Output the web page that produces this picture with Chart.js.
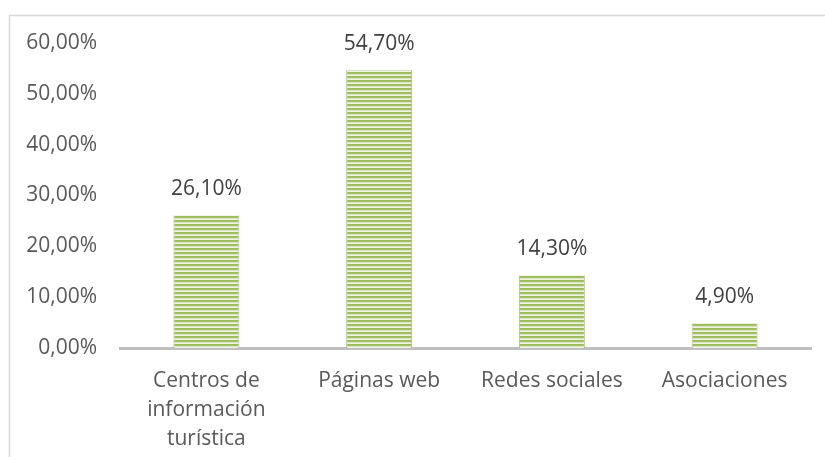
<!DOCTYPE html>
<html>
<head>
<meta charset="utf-8">
<script src="https://cdn.jsdelivr.net/npm/chart.js@4"></script>
<style>
  html, body { margin: 0; padding: 0; background: #fff; }
  #chart { display: block; }
</style>
</head>
<body>
<canvas id="chart" width="825" height="457"></canvas>
<script>
// datos del gráfico
const categories = [
  ['Centros de', 'información', 'turística'],
  'Páginas web',
  'Redes sociales',
  'Asociaciones',
];
const values = [26.1, 54.7, 14.3, 4.9];
const yTicks = [0, 10, 20, 30, 40, 50, 60];

const TEXT_COLOR = '#595959';
const FONT = '"Open Sans", "Noto Sans", sans-serif';

// formato europeo: 26,10%
function fmtPct(v) {
  return v.toFixed(2).replace('.', ',') + '%';
}

// patrón de rayas horizontales verdes
function makeStripes() {
  const c = document.createElement('canvas');
  c.width = 4;
  c.height = 4;
  const g = c.getContext('2d');
  const rows = ['#9bbb59', '#a5c267', '#d8e4c0', '#eef3e3'];
  rows.forEach((col, i) => {
    g.fillStyle = col;
    g.fillRect(0, i, 4, 1);
  });
  return g.createPattern(c, 'repeat');
}

// marco gris alrededor del gráfico
const framePlugin = {
  id: 'frame',
  beforeDraw(chart) {
    const ctx = chart.ctx;
    ctx.save();
    ctx.fillStyle = '#ffffff';
    ctx.fillRect(0, 0, chart.width, chart.height);
    ctx.strokeStyle = '#d9d9d9';
    ctx.lineWidth = 1.5;
    ctx.beginPath();
    ctx.moveTo(9.5, chart.height);
    ctx.lineTo(9.5, 15.5);
    ctx.lineTo(chart.width, 15.5);
    ctx.stroke();
    ctx.restore();
  },
};

// etiquetas de valor encima de cada barra
const valueLabels = {
  id: 'valueLabels',
  afterDatasetsDraw(chart) {
    const ctx = chart.ctx;
    const meta = chart.getDatasetMeta(0);
    ctx.save();
    ctx.font = `21px ${FONT}`;
    ctx.fillStyle = '#404040';
    ctx.textAlign = 'center';
    ctx.textBaseline = 'middle';
    meta.data.forEach((bar, i) => {
      ctx.fillText(fmtPct(values[i]), bar.x, bar.y - 26);
    });
    ctx.restore();
  },
};

const ctx = document.getElementById('chart').getContext('2d');

new Chart(ctx, {
  type: 'bar',
  data: {
    labels: categories,
    datasets: [{
      data: values,
      backgroundColor: makeStripes(),
      borderColor: 'rgba(140,175,75,0.7)',
      borderWidth: { left: 1, right: 1, top: 0, bottom: 0 },
      borderSkipped: false,
      categoryPercentage: 1,
      barPercentage: 0.382,
    }],
  },
  options: {
    responsive: false,
    animation: false,
    layout: { padding: { top: 43, right: 14, left: 0, bottom: 0 } },
    plugins: {
      legend: { display: false },
      tooltip: { enabled: false },
    },
    scales: {
      x: {
        grid: { display: false, drawTicks: false },
        border: { display: true, color: '#bfbfbf', width: 3 },
        ticks: {
          color: TEXT_COLOR,
          font: { family: FONT, size: 21, lineHeight: 1.4 },
          padding: 18,
          maxRotation: 0,
          autoSkip: false,
        },
        afterFit(scale) { scale.height = 109; },
      },
      y: {
        min: 0,
        max: 60,
        afterBuildTicks(scale) {
          scale.ticks = yTicks.map((v) => ({ value: v }));
        },
        grid: { display: false, drawTicks: false },
        border: { display: false },
        ticks: {
          color: TEXT_COLOR,
          font: { family: FONT, size: 21 },
          padding: 23,
          callback: (v) => fmtPct(v),
        },
        afterFit(scale) { scale.width = 120; },
      },
    },
  },
  plugins: [framePlugin, valueLabels],
});
</script>
</body>
</html>
